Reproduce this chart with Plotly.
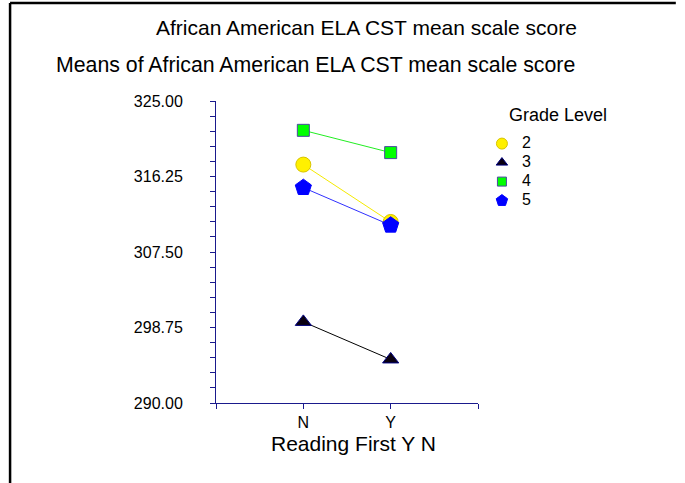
import plotly.graph_objects as go

# data
reading_first = ["N", "Y"]
grades = ["2", "3", "4", "5"]
grade2 = [317.63, 310.98]
grade3 = [299.40, 295.05]
grade4 = [321.60, 319.02]
grade5 = [314.96, 310.60]
y_ticks = [290.00, 298.75, 307.50, 316.25, 325.00]

series = [grade2, grade3, grade4, grade5]
styles = {
    "2": dict(symbol="circle", fill="#FFF000", edge="#D8C400", line="#F5EA00", size=15, leg=11),
    "3": dict(symbol="triangle-up", fill="#0A0010", edge="#000080", line="#000000", size=14, leg=10),
    "4": dict(symbol="square", fill="#00FF00", edge="#4A4AA0", line="#22EE22", size=12, leg=9),
    "5": dict(symbol="pentagon", fill="#0000FF", edge="#0000FF", line="#3030FF", size=17, leg=12),
}
AXIS = "#1A1A8C"
FONT = "Arial, Liberation Sans, sans-serif"

xpos = list(range(1, len(reading_first) + 1))

fig = go.Figure()

# connecting lines first, markers on top
for g, vals in zip(grades, series):
    s = styles[g]
    fig.add_trace(go.Scatter(x=xpos, y=vals, mode="lines", showlegend=False,
                             line=dict(color=s["line"], width=1), hoverinfo="skip"))
for g, vals in zip(grades, series):
    s = styles[g]
    fig.add_trace(go.Scatter(x=xpos, y=vals, mode="markers", showlegend=False, name=g,
                             marker=dict(symbol=s["symbol"], size=s["size"], color=s["fill"],
                                         line=dict(color=s["edge"], width=1))))
# legend-only entries (smaller symbols like the original key)
for g in grades:
    s = styles[g]
    fig.add_trace(go.Scatter(x=[None], y=[None], mode="markers",
                             name=f'<span style="font-size:16px">{g}</span>',
                             marker=dict(symbol=s["symbol"], size=s["leg"], color=s["fill"],
                                         line=dict(color=s["edge"], width=1))))

fig.update_xaxes(
    range=[0, len(reading_first) + 1],
    tickvals=[0] + xpos + [len(reading_first) + 1],
    ticktext=[""] + reading_first + [""],
    showline=True, linecolor=AXIS, linewidth=1,
    ticks="outside", ticklen=5, tickcolor=AXIS,
    showgrid=False, zeroline=False,
    tickfont=dict(size=16, color="black"),
)
fig.update_yaxes(
    range=[y_ticks[0], y_ticks[-1]],
    tickvals=y_ticks, tickformat=".2f",
    showline=True, linecolor=AXIS, linewidth=1,
    ticks="outside", ticklen=5, tickcolor=AXIS,
    minor=dict(dtick=1.75, tick0=290, ticks="outside", ticklen=5, tickcolor=AXIS, showgrid=False),
    showgrid=False, zeroline=False,
    tickfont=dict(size=16, color="black"),
    ticklabelstandoff=24,
)

annos = [
    dict(text="African American ELA CST mean scale score", x=0.575, y=1.242, size=21),
    dict(text="Means of African American ELA CST mean scale score", x=0.378, y=1.118, size=21.3),
    dict(text="Reading First Y N", x=0.5256, y=-0.1325, size=21),
    dict(text="Grade Level", x=1.305, y=0.955, size=18),
]
for a in annos:
    fig.add_annotation(text=a["text"], x=a["x"], y=a["y"], xref="paper", yref="paper",
                       xanchor="center", yanchor="middle", showarrow=False,
                       font=dict(size=a["size"], color="black", family=FONT))

# outer frame: only the left and top edges show in the original
fig.add_shape(type="line", xref="paper", yref="paper", x0=-0.786, y0=1.3245, x1=1.755, y1=1.3245,
              line=dict(color="black", width=2.5))
fig.add_shape(type="line", xref="paper", yref="paper", x0=-0.786, y0=-0.5, x1=-0.786, y1=1.3245,
              line=dict(color="black", width=2.5))

fig.update_layout(
    width=685, height=483,
    margin=dict(l=216, r=207, t=101, b=80),
    paper_bgcolor="white", plot_bgcolor="white",
    font=dict(family=FONT, color="black"),
    showlegend=True,
    legend=dict(x=1.015, xanchor="left", y=0.907, yanchor="top",
                bgcolor="rgba(0,0,0,0)", borderwidth=0, font=dict(size=12)),
)

fig.write_html("out.html", config={"displayModeBar": False},
               post_script="document.body.style.margin='0';document.body.style.overflow='hidden';")
